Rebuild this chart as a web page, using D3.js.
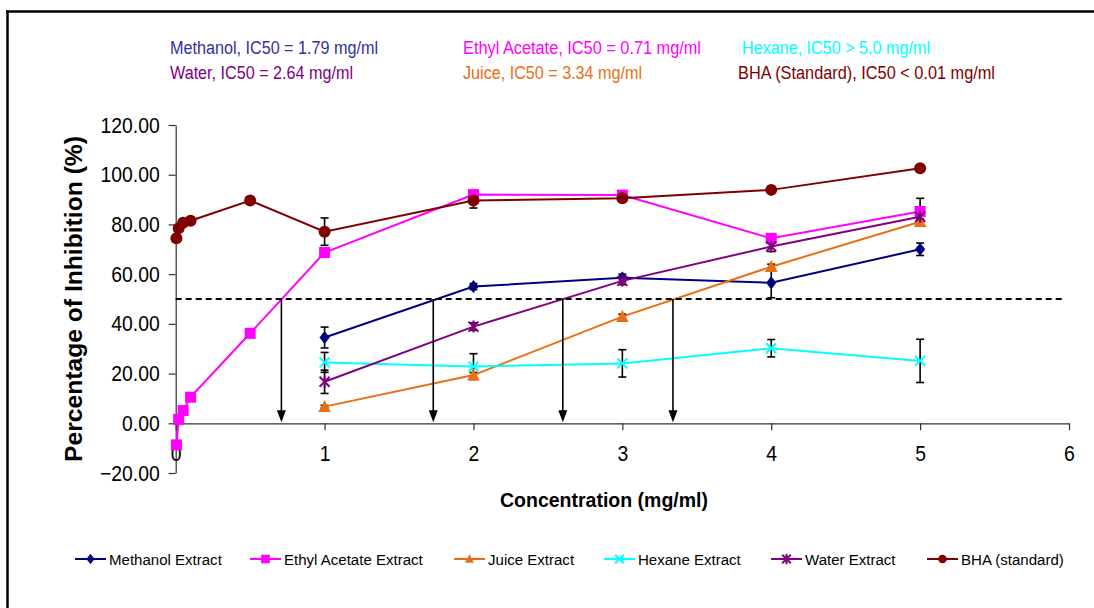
<!DOCTYPE html>
<html>
<head>
<meta charset="utf-8">
<script src="https://cdn.jsdelivr.net/npm/d3@7"></script>
<style>
  html, body { margin: 0; padding: 0; background: #fff; }
  svg { display: block; font-family: "Liberation Sans", Arial, sans-serif; }
</style>
</head>
<body>
<svg id="chart" width="1094" height="608"></svg>
<script>
// ---- data -------------------------------------------------------------
const concLow = [0.005, 0.02, 0.05, 0.1, 0.5, 1, 2, 3, 4, 5];   // mg/ml
const concMain = [1, 2, 3, 4, 5];                                // mg/ml

const methanolVals = [34.5, 55.0, 58.5, 56.5, 70.0];
const methanolErr  = [4.2, 1.2, 1.5, 6.0, 2.5];

const ethylVals = [-8.7, 1.6, 5.1, 10.5, 36.2, 68.7, 92.0, 91.8, 74.4, 85.2];
const ethylErr  = [0, 0, 0, 0, 0, 1, 1, 1, 1, 5.3];

const juiceVals = [6.7, 19.4, 42.9, 63.0, 81.1];
const juiceErr  = [0.5, 1, 1, 1, 1];

const hexaneVals = [24.5, 22.8, 24.1, 30.2, 25.1];
const hexaneErr  = [4.0, 5.2, 5.5, 3.5, 8.7];

const waterVals = [16.7, 38.9, 57.3, 71.1, 83.1];
const waterErr  = [4.7, 1.5, 1.5, 2.0, 1.0];

const bhaVals = [74.4, 78.5, 80.7, 81.5, 89.6, 77.1, 89.6, 90.5, 93.9, 102.6];
const bhaErr  = [1, 1, 1, 1, 1, 5.5, 3, 1, 1.2, 1];

const seriesNames = ["Methanol Extract", "Ethyl Acetate Extract", "Juice Extract",
                     "Hexane Extract", "Water Extract", "BHA (standard)"];

const icLabels = [
  "Methanol, IC50 = 1.79 mg/ml", "Ethyl Acetate, IC50 = 0.71 mg/ml", "Hexane, IC50 > 5.0 mg/ml",
  "Water, IC50 = 2.64 mg/ml", "Juice, IC50 = 3.34 mg/ml", "BHA (Standard), IC50 < 0.01 mg/ml"
];

const halfLevel = 50;                          // 50 % inhibition reference
const crossingConc = [0.71, 1.73, 2.60, 3.34]; // where curves cross 50 %

const yTicks = [-20, 0, 20, 40, 60, 80, 100, 120];
const xTicks = [0, 1, 2, 3, 4, 5, 6];

// ---- series setup -----------------------------------------------------
const series = [
  { name: seriesNames[0], x: concMain, y: methanolVals, e: methanolErr, color: "#000080", marker: "diamond" },
  { name: seriesNames[1], x: concLow,  y: ethylVals,    e: ethylErr,    color: "#FF00FF", marker: "square" },
  { name: seriesNames[2], x: concMain, y: juiceVals,    e: juiceErr,    color: "#EB6E14", marker: "triangle" },
  { name: seriesNames[3], x: concMain, y: hexaneVals,   e: hexaneErr,   color: "#00FFFF", marker: "cross" },
  { name: seriesNames[4], x: concMain, y: waterVals,    e: waterErr,    color: "#800080", marker: "star" },
  { name: seriesNames[5], x: concLow,  y: bhaVals,      e: bhaErr,      color: "#800000", marker: "circle" }
];

const svg = d3.select("#chart");

const x = d3.scaleLinear().domain([0, 6]).range([175.7, 1069]);
const y = d3.scaleLinear().domain([-20, 120]).range([473, 125]);

// squeeze text horizontally to the narrow look of the chart's type
function squeeze(sel, f) {
  sel.each(function () {
    const w = this.getComputedTextLength();
    d3.select(this).attr("textLength", w * f).attr("lengthAdjust", "spacingAndGlyphs");
  });
}

// ---- outer frame (top and left edges) ----------------------------------
svg.append("line").attr("x1", 6).attr("x2", 1094).attr("y1", 11.5).attr("y2", 11.5)
  .attr("stroke", "#000").attr("stroke-width", 2.5);
svg.append("line").attr("x1", 7.5).attr("x2", 7.5).attr("y1", 10.5).attr("y2", 608)
  .attr("stroke", "#000").attr("stroke-width", 2.5);

// ---- IC50 header texts --------------------------------------------------
const icColors = ["#333399", "#FF00FF", "#00FFFF", "#800080", "#EB6E14", "#800000"];
const icX = [170, 463, 742, 170, 463, 738];
const icY = [54, 54, 54, 79, 79, 79];
const icW = [208, 238, 188, 183, 179, 257];
svg.append("g").selectAll("text").data(icLabels).join("text")
  .attr("x", (d, i) => icX[i]).attr("y", (d, i) => icY[i])
  .attr("fill", (d, i) => icColors[i])
  .style("font-size", "18px")
  .attr("textLength", (d, i) => icW[i]).attr("lengthAdjust", "spacingAndGlyphs")
  .text(d => d);

// ---- axes ---------------------------------------------------------------
const axisColor = "#333";

const yAxis = svg.append("g").attr("transform", `translate(${x(0)},0)`)
  .call(d3.axisLeft(y).tickValues(yTicks).tickFormat(d3.format(".2f"))
    .tickSize(7).tickSizeOuter(0).tickPadding(9));
yAxis.select(".domain").attr("stroke", axisColor).attr("stroke-width", 1.2);
yAxis.selectAll(".tick line").attr("stroke", axisColor).attr("stroke-width", 1.2);
yAxis.selectAll(".tick text").attr("fill", "#000").style("font-size", "22px")
  .attr("font-family", "Liberation Sans, Arial, sans-serif")
  .call(squeeze, 0.88);

const xAxis = svg.append("g").attr("transform", `translate(0,${y(0)})`)
  .call(d3.axisBottom(x).tickValues(xTicks).tickFormat(d3.format("d"))
    .tickSize(7).tickSizeOuter(0).tickPadding(15));
xAxis.select(".domain").attr("stroke", axisColor).attr("stroke-width", 1.2);
xAxis.selectAll(".tick line").attr("stroke", axisColor).attr("stroke-width", 1.2);
xAxis.selectAll(".tick text").attr("fill", "#000").style("font-size", "22px")
  .attr("font-family", "Liberation Sans, Arial, sans-serif")
  .call(squeeze, 0.88);

// axis titles
svg.append("text")
  .attr("transform", `translate(82,${(y(-20) + y(120)) / 2}) rotate(-90)`)
  .attr("text-anchor", "middle")
  .style("font-size", "23px").style("font-weight", "bold")
  .attr("textLength", 326).attr("lengthAdjust", "spacingAndGlyphs")
  .text("Percentage of Inhibition  (%)");

svg.append("text")
  .attr("x", 604).attr("y", 507)
  .attr("text-anchor", "middle")
  .style("font-size", "20px").style("font-weight", "bold")
  .attr("textLength", 208).attr("lengthAdjust", "spacingAndGlyphs")
  .text("Concentration (mg/ml)");

// ---- markers ------------------------------------------------------------
function drawMarker(g, type, color, s) {
  // s is the marker half-size
  if (type === "diamond") {
    g.append("path").attr("d", `M0,${-s * 1.1}L${s * 0.85},0L0,${s * 1.1}L${-s * 0.85},0Z`)
      .attr("fill", color).attr("stroke", color).attr("stroke-width", 0.8);
  } else if (type === "square") {
    g.append("rect").attr("x", -s).attr("y", -s).attr("width", 2 * s).attr("height", 2 * s)
      .attr("fill", color);
  } else if (type === "triangle") {
    g.append("path").attr("d", `M0,${-s * 1.1}L${s * 1.05},${s * 0.9}L${-s * 1.05},${s * 0.9}Z`)
      .attr("fill", color);
  } else if (type === "circle") {
    g.append("circle").attr("r", s).attr("fill", color);
  } else if (type === "cross") {
    g.append("path").attr("d", `M${-s},${-s}L${s},${s}M${-s},${s}L${s},${-s}`)
      .attr("stroke", color).attr("stroke-width", 2).attr("fill", "none");
  } else if (type === "star") {
    g.append("path").attr("d", `M${-s},${-s}L${s},${s}M${-s},${s}L${s},${-s}M0,${-s * 1.2}L0,${s * 1.2}`)
      .attr("stroke", color).attr("stroke-width", 2).attr("fill", "none");
  }
}

const plot = svg.append("g");

// error bars
series.forEach(s => {
  const g = plot.append("g");
  s.y.forEach((v, i) => {
    const err = s.e[i];
    if (!err) return;
    const cx = x(s.x[i]);
    const top = y(v + err), bot = y(v - err);
    g.append("line").attr("x1", cx).attr("x2", cx).attr("y1", top).attr("y2", bot)
      .attr("stroke", "#000").attr("stroke-width", 1.6);
    [top, bot].forEach(yy => g.append("line")
      .attr("x1", cx - 4).attr("x2", cx + 4).attr("y1", yy).attr("y2", yy)
      .attr("stroke", "#000").attr("stroke-width", 1.6));
  });
});

// lines and markers
const lineGen = d3.line().x(d => x(d[0])).y(d => y(d[1]));
const markerSize = { diamond: 5.5, square: 5.5, triangle: 6, cross: 5, star: 5, circle: 6 };
series.forEach(s => {
  const pts = s.x.map((c, i) => [c, s.y[i]]);
  plot.append("path").datum(pts).attr("d", lineGen)
    .attr("fill", "none").attr("stroke", s.color).attr("stroke-width", 2);
  pts.forEach(p => {
    const g = plot.append("g").attr("transform", `translate(${x(p[0])},${y(p[1])})`);
    drawMarker(g, s.marker, s.color, markerSize[s.marker]);
  });
});

// ---- 50 % reference line and IC50 arrows --------------------------------
svg.append("line")
  .attr("x1", x(0)).attr("x2", 1065).attr("y1", y(halfLevel)).attr("y2", y(halfLevel))
  .attr("stroke", "#000").attr("stroke-width", 2).attr("stroke-dasharray", "6,4");

const arrows = svg.append("g");
crossingConc.forEach(c => {
  const cx = x(c);
  arrows.append("line").attr("x1", cx).attr("x2", cx)
    .attr("y1", y(halfLevel)).attr("y2", y(0) - 10)
    .attr("stroke", "#000").attr("stroke-width", 1.6);
  arrows.append("path")
    .attr("d", `M${cx - 4.5},${y(0) - 13}L${cx + 4.5},${y(0) - 13}L${cx},${y(0) - 1}Z`)
    .attr("fill", "#000");
});

// ---- legend -------------------------------------------------------------
const legX = [75, 250, 454, 604, 771, 927];
const legY = 559;
const leg = svg.append("g");
series.forEach((s, i) => {
  const g = leg.append("g").attr("transform", `translate(${legX[i]},${legY})`);
  g.append("line").attr("x1", 0).attr("x2", 31).attr("y1", 0).attr("y2", 0)
    .attr("stroke", s.color).attr("stroke-width", 2);
  const m = g.append("g").attr("transform", "translate(15.5,0)");
  drawMarker(m, s.marker, s.color, 4.3);
  g.append("text").attr("x", 34).attr("y", 5.5)
    .style("font-size", "15.5px").attr("fill", "#000")
    .text(s.name)
    .call(squeeze, 0.97);
});
</script>
</body>
</html>
